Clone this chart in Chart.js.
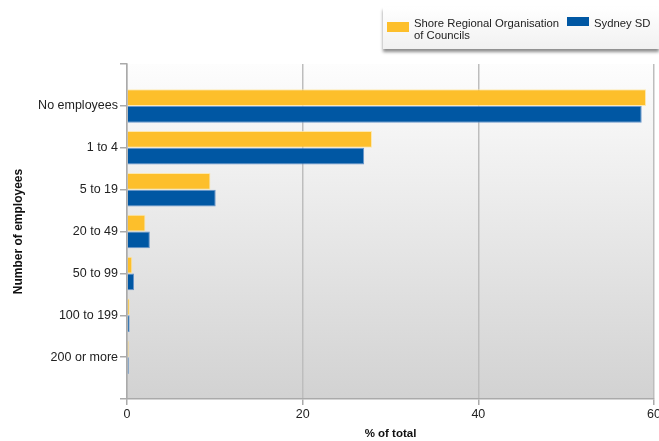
<!DOCTYPE html>
<html>
<head>
<meta charset="utf-8">
<script src="https://cdn.jsdelivr.net/npm/chart.js@4"></script>
<style>
  body { margin: 0; background: #fff; font-family: "Liberation Sans", Arial, sans-serif; overflow: hidden; }
  #wrap { position: relative; width: 659px; height: 441px; overflow: hidden; }
  #legend {
    position: absolute; left: 383px; top: 7px; width: 276px; height: 42px;
    background: linear-gradient(#ffffff, #f1f1f1);
    box-shadow: 0 3px 3px rgba(0,0,0,0.45);
    font-size: 11.3px; color: #222; line-height: 12px;
  }
  .sw { position: absolute; width: 22px; height: 10px; }
  .lt { position: absolute; white-space: nowrap; }
</style>
</head>
<body>
<div id="wrap">
  <canvas id="chart" width="672" height="441"></canvas>
  <div id="legend">
    <div class="sw" style="left:4px;top:15px;background:#fdbf2b"></div>
    <div class="lt" style="left:31px;top:10px">Shore Regional Organisation<br>of Councils</div>
    <div class="sw" style="left:184px;top:10px;height:9px;background:#0057a3"></div>
    <div class="lt" style="left:211px;top:10px">Sydney SD</div>
  </div>
</div>
<script>
const categories = ['No employees', '1 to 4', '5 to 19', '20 to 49', '50 to 99', '100 to 199', '200 or more'];
const shoreValues = [59.1, 27.9, 9.5, 2.1, 0.6, 0.3, 0.2];
const sydneyValues = [58.6, 27.0, 10.1, 2.6, 0.8, 0.3, 0.2];
const xTicks = [0, 20, 40, 60];

// empty slots at both ends give the extra band above and below the bars
const labels = [''].concat(categories, ['']);
const pad = arr => [null].concat(arr, [null]);

const plotBackground = {
    id: 'plotBackground',
    beforeDraw(chart) {
        const a = chart.chartArea;
        const ctx = chart.ctx;
        const g = ctx.createLinearGradient(0, a.top, 0, a.bottom);
        g.addColorStop(0, '#fdfdfd');
        g.addColorStop(1, '#d2d2d2');
        ctx.save();
        ctx.fillStyle = g;
        ctx.fillRect(a.left, a.top, a.right - a.left, a.bottom - a.top);
        ctx.restore();
    }
};

const fontName = '"Liberation Sans", Arial';

new Chart(document.getElementById('chart').getContext('2d'), {
    type: 'bar',
    data: {
        labels: labels,
        datasets: [
            {
                label: 'Shore Regional Organisation of Councils',
                data: pad(shoreValues),
                backgroundColor: '#fdbf2b',
                borderColor: 'rgba(255,230,160,0.8)',
                borderWidth: 1
            },
            {
                label: 'Sydney SD',
                data: pad(sydneyValues),
                backgroundColor: '#0057a3',
                borderColor: 'rgba(90,140,200,0.9)',
                borderWidth: 1
            }
        ]
    },
    options: {
        indexAxis: 'y',
        responsive: false,
        animation: false,
        categoryPercentage: 0.8,
        barPercentage: 1.0,
        layout: { padding: { top: 64, right: 18, left: 11, bottom: 0 } },
        plugins: {
            legend: { display: false },
            tooltip: { enabled: false }
        },
        scales: {
            x: {
                type: 'linear',
                min: 0,
                max: 60,
                afterBuildTicks: (s) => { s.ticks = xTicks.map(v => ({ value: v })); },
                afterFit: (s) => { s.height = 42; },
                grid: { color: '#bdbdbd', lineWidth: 1.5, tickLength: 6, tickColor: '#aaa' },
                border: { color: '#aaa', width: 1.5 },
                ticks: { color: '#222', font: { family: fontName, size: 12.5 }, padding: 2, maxRotation: 0 },
                title: { display: true, text: '% of total', color: '#111', font: { family: fontName, size: 11.5, weight: 'bold' }, padding: { top: 8, bottom: 0 } }
            },
            y: {
                type: 'category',
                offset: false,
                afterFit: (s) => { s.width = 116; },
                grid: { offset: false, drawOnChartArea: false, drawTicks: true, tickLength: 7, tickColor: '#aaa', lineWidth: 1.5 },
                border: { color: '#aaa', width: 1.5 },
                ticks: { color: '#222', font: { family: fontName, size: 12.5 }, padding: 2, autoSkip: false },
                title: { display: true, text: 'Number of employees', color: '#111', font: { family: fontName, size: 12, weight: 'bold' }, padding: { top: 0, bottom: 0 } }
            }
        }
    },
    plugins: [plotBackground]
});
</script>
</body>
</html>
